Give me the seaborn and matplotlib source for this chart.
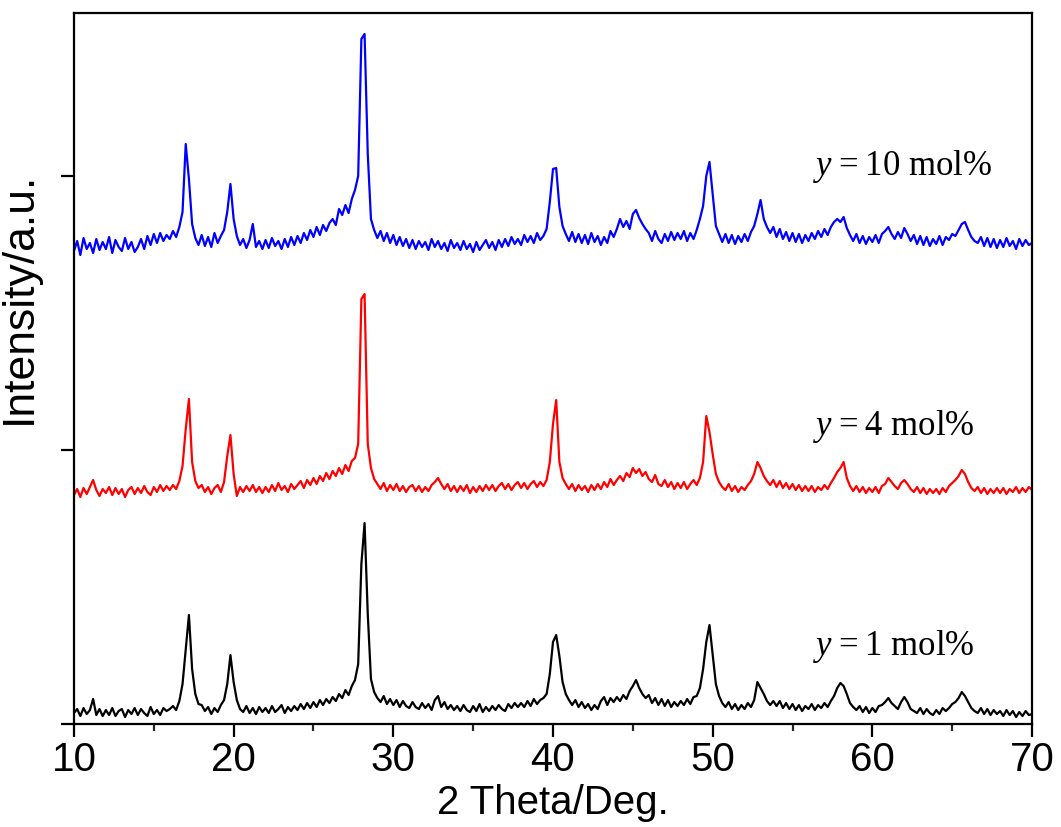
# XRD patterns for three doping levels, stacked with offsets
import numpy as np
import pandas as pd
import seaborn as sns
import matplotlib.pyplot as plt

# 2 Theta sampling grid (deg), 0.2 deg step
two_theta = np.round(np.linspace(10, 70, 301), 1)

# intensities (a.u., offsets included), one row = 2 deg
y1_mol = [
    11, 15, 8, 16, 10, 14, 25, 9, 15, 8,           # 10
    14, 9, 16, 8, 13, 15, 7, 14, 10, 16,           # 12
    9, 15, 11, 8, 17, 10, 14, 9, 16, 13,           # 14
    15, 18, 14, 23, 40, 75, 109, 55, 30, 20,       # 16
    19, 13, 17, 10, 16, 12, 19, 24, 40, 69,        # 18
    42, 24, 15, 12, 18, 11, 16, 10, 17, 12,        # 20
    16, 11, 18, 12, 15, 19, 11, 17, 13, 18,        # 22
    14, 20, 15, 21, 16, 22, 17, 24, 19, 25,        # 24
    21, 27, 23, 30, 26, 34, 29, 38, 44, 60,        # 26
    160, 201, 110, 45, 32, 26, 22, 28, 20, 25,     # 28
    19, 24, 17, 23, 18, 16, 22, 17, 15, 21,        # 30
    16, 20, 14, 24, 28, 17, 22, 15, 19, 14,        # 32
    18, 13, 19, 14, 12, 18, 13, 20, 12, 17,        # 34
    13, 18, 14, 19, 15, 13, 20, 16, 21, 17,        # 36
    21, 17, 23, 18, 25, 20, 24, 26, 30, 50,        # 38
    82, 89, 68, 42, 30, 24, 19, 24, 17, 22,        # 40
    16, 20, 14, 19, 15, 23, 27, 19, 26, 22,        # 42
    27, 23, 29, 25, 33, 38, 44, 36, 30, 26,        # 44
    29, 21, 26, 19, 25, 18, 24, 17, 22, 18,        # 46
    23, 19, 25, 20, 27, 28, 36, 55, 82, 99,        # 48
    70, 40, 28, 21, 17, 22, 15, 20, 14, 19,        # 50
    15, 21, 17, 24, 42, 36, 30, 23, 19, 23,        # 52
    18, 23, 16, 21, 15, 20, 14, 19, 13, 18,        # 54
    15, 20, 14, 19, 16, 21, 17, 23, 28, 36,        # 56
    41, 38, 30, 21, 17, 14, 18, 12, 17, 11,        # 58
    16, 12, 18, 19, 22, 26, 21, 18, 15, 22,        # 60
    27, 22, 15, 13, 11, 16, 10, 15, 11, 9,         # 62
    14, 10, 16, 13, 16, 20, 22, 26, 32, 28,        # 64
    22, 16, 13, 11, 16, 10, 15, 9, 14, 10,         # 66
    13, 8, 14, 9, 13, 7, 12, 8, 13, 9,             # 68
    10,
]
y4_mol = [
    229, 235, 227, 236, 230, 237, 244, 234, 228, 235,   # 10
    231, 237, 229, 236, 230, 235, 227, 234, 237, 230,   # 12
    236, 231, 238, 232, 229, 237, 232, 239, 233, 238,   # 14
    234, 239, 235, 243, 258, 295, 325, 262, 243, 236,   # 16
    239, 232, 237, 230, 236, 239, 232, 242, 268, 289,   # 18
    250, 228, 237, 232, 238, 233, 239, 232, 237, 231,   # 20
    237, 232, 239, 233, 241, 234, 238, 232, 240, 235,   # 22
    239, 243, 236, 244, 239, 246, 240, 248, 243, 251,   # 24
    245, 253, 248, 256, 250, 259, 253, 263, 266, 280,   # 26
    425, 430, 280, 256, 245, 240, 235, 241, 233, 239,   # 28
    234, 240, 233, 238, 232, 237, 239, 233, 238, 232,   # 30
    237, 233, 239, 242, 246, 240, 235, 240, 233, 238,   # 32
    232, 238, 233, 239, 231, 237, 232, 238, 233, 239,   # 34
    234, 239, 233, 238, 241, 235, 240, 234, 239, 242,   # 36
    236, 241, 235, 240, 243, 237, 242, 238, 244, 262,   # 38
    300, 324, 262, 246, 240, 235, 240, 233, 239, 234,   # 40
    238, 232, 239, 234, 240, 235, 242, 237, 245, 239,   # 42
    244, 248, 243, 251, 247, 256, 251, 255, 248, 252,   # 44
    245, 242, 249, 240, 238, 244, 237, 242, 235, 241,   # 46
    236, 242, 235, 240, 244, 239, 246, 262, 308, 292,   # 48
    270, 250, 242, 237, 234, 240, 233, 238, 232, 237,   # 50
    234, 239, 243, 250, 262, 256, 248, 243, 239, 244,   # 52
    237, 243, 236, 241, 235, 240, 234, 239, 233, 238,   # 54
    233, 238, 232, 237, 234, 239, 235, 241, 246, 252,   # 56
    256, 262, 246, 238, 233, 238, 232, 237, 231, 236,   # 58
    232, 237, 231, 238, 240, 246, 242, 238, 235, 241,   # 60
    244, 240, 235, 232, 237, 231, 236, 230, 235, 231,   # 62
    235, 230, 236, 232, 238, 241, 244, 248, 254, 250,   # 64
    242, 236, 233, 237, 231, 236, 230, 235, 231, 236,   # 66
    231, 236, 230, 235, 232, 237, 231, 236, 232, 237,   # 68
    234,
]
y10_mol = [
    473, 483, 469, 486, 475, 481, 471, 485, 474, 482,   # 10
    475, 487, 471, 484, 477, 473, 486, 475, 482, 472,   # 12
    477, 485, 475, 488, 479, 490, 481, 491, 483, 489,   # 14
    485, 493, 487, 497, 512, 580, 545, 500, 486, 479,   # 16
    489, 478, 487, 477, 491, 481, 488, 494, 512, 540,   # 18
    505, 488, 479, 485, 476, 484, 500, 477, 483, 475,   # 20
    484, 476, 486, 478, 483, 475, 485, 477, 487, 479,   # 22
    488, 481, 491, 484, 494, 487, 497, 489, 499, 493,   # 24
    501, 505, 499, 515, 509, 519, 511, 525, 534, 548,   # 26
    685, 690, 570, 505, 494, 486, 493, 483, 491, 481,   # 28
    489, 479, 487, 478, 485, 476, 484, 475, 483, 477,   # 30
    482, 474, 485, 477, 483, 475, 481, 473, 484, 476,   # 32
    481, 474, 483, 475, 480, 472, 482, 474, 479, 484,   # 34
    476, 482, 474, 484, 477, 485, 478, 487, 480, 485,   # 36
    479, 489, 482, 488, 481, 491, 484, 488, 495, 522,   # 38
    555, 556, 517, 498, 490, 483, 492, 482, 490, 481,   # 40
    489, 480, 491, 482, 488, 479, 487, 481, 493, 487,   # 42
    495, 505, 497, 503, 495, 510, 514, 506, 500, 495,   # 44
    491, 483, 493, 485, 481, 490, 483, 492, 484, 491,   # 46
    485, 493, 483, 491, 485, 494, 505, 518, 548, 562,   # 48
    530, 498, 490, 482, 490, 481, 489, 480, 488, 482,   # 50
    490, 483, 492, 498, 510, 524, 505, 497, 491, 497,   # 52
    487, 495, 485, 492, 483, 491, 482, 490, 481, 489,   # 54
    483, 491, 485, 493, 487, 495, 489, 497, 502, 505,   # 56
    502, 507, 496, 489, 483, 490, 481, 488, 480, 487,   # 58
    482, 489, 481, 490, 493, 497, 490, 485, 492, 486,   # 60
    496, 490, 483, 489, 480, 488, 479, 487, 478, 485,   # 62
    480, 488, 479, 487, 484, 490, 488, 494, 500, 502,   # 64
    494, 487, 483, 481, 487, 478, 486, 477, 485, 476,   # 66
    484, 477, 486, 478, 483, 475, 485, 478, 484, 479,   # 68
    481,
]

sample_labels = ['$y$\u2009=\u20091 mol%', '$y$\u2009=\u20094 mol%', '$y$\u2009=\u200910 mol%']
line_colors = ['black', 'red', 'blue']

frames = []
for lab, vals in zip(sample_labels, [y1_mol, y4_mol, y10_mol]):
    assert len(vals) == len(two_theta), lab
    frames.append(pd.DataFrame({'two_theta': two_theta, 'intensity': vals, 'sample': lab}))
df = pd.concat(frames, ignore_index=True)

sns.set_style('ticks')
plt.rcParams['font.family'] = ['Liberation Sans', 'DejaVu Sans']
plt.rcParams['text.color'] = 'black'
plt.rcParams['axes.labelcolor'] = 'black'
plt.rcParams['mathtext.fontset'] = 'custom'
plt.rcParams['mathtext.it'] = 'Liberation Serif:italic'
plt.rcParams['mathtext.rm'] = 'Liberation Serif'

fig = plt.figure(figsize=(10.61, 8.27), dpi=100)
ax = fig.add_axes([0.0697, 0.1245, 0.9030, 0.8598])

sns.lineplot(data=df, x='two_theta', y='intensity', hue='sample',
             palette=dict(zip(sample_labels, line_colors)), estimator=None,
             sort=False, linewidth=1.6, legend=False, ax=ax)

ax.set_xlim(10, 70)
ax.set_ylim(0, 711)
ax.set_xticks(np.arange(10, 71, 10))
ax.set_xticks(np.arange(15, 70, 10), minor=True)
ax.set_yticks([0, 274, 548])
ax.set_yticklabels([])

for sp in ax.spines.values():
    sp.set_visible(True)
    sp.set_linewidth(1.6)
    sp.set_color('black')
ax.tick_params(axis='both', which='major', direction='out', length=9.5, width=1.6,
               labelsize=29, pad=3, colors='black')
ax.tick_params(axis='x', which='minor', direction='out', length=5, width=1.6)

ax.set_xlabel('2 Theta/Deg.', fontsize=29, labelpad=3)
ax.set_ylabel('Intensity/a.u.', fontsize=32)
ax.yaxis.set_label_coords(-0.036, 0.6)

# sample labels next to each pattern
label_y = [69, 289, 549]
for lab, yy in zip(sample_labels, label_y):
    ax.text(56.3, yy, lab, fontsize=25, family='Liberation Serif', va='baseline')

fig.savefig('out.png', dpi=100)
